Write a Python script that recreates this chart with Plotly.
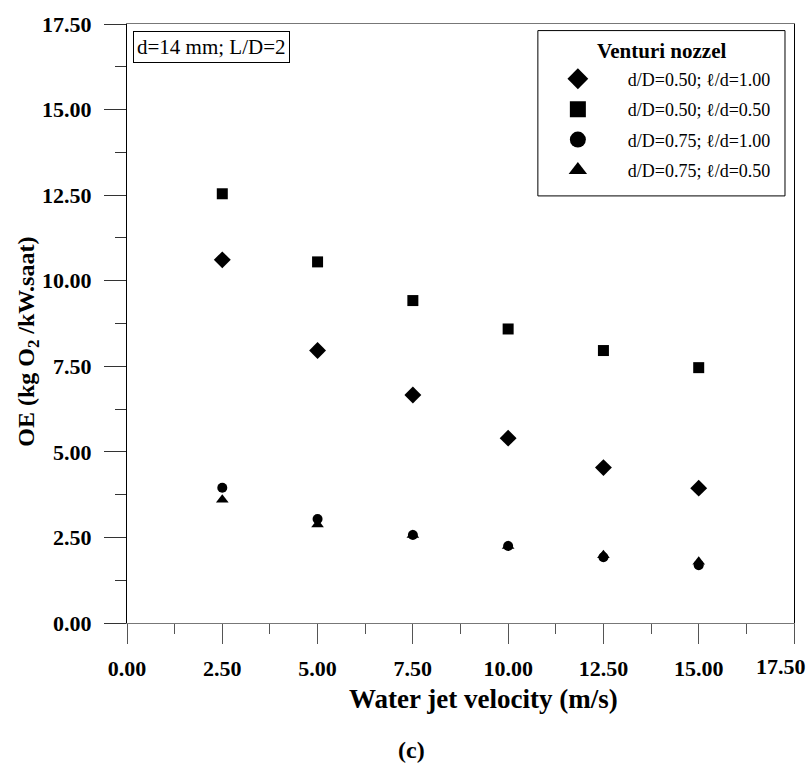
import plotly.graph_objects as go

velocity = [2.5, 5.0, 7.5, 10.0, 12.5, 15.0]
oe_d050_l100 = [10.61, 7.96, 6.66, 5.40, 4.54, 3.94]
oe_d050_l050 = [12.54, 10.55, 9.42, 8.59, 7.96, 7.46]
oe_d075_l100 = [3.95, 3.04, 2.57, 2.25, 1.92, 1.69]
oe_d075_l050 = [3.60, 2.88, 2.57, 2.25, 1.98, 1.79]

series_names = ["d/D=0.50; ℓ/d=1.00", "d/D=0.50; ℓ/d=0.50",
                "d/D=0.75; ℓ/d=1.00", "d/D=0.75; ℓ/d=0.50"]
series_values = [oe_d050_l100, oe_d050_l050, oe_d075_l100, oe_d075_l050]
symbols = ["diamond", "square", "circle", "triangle-up"]
sizes = [13, 11, 10, 11]

tick_vals = [0, 2.5, 5.0, 7.5, 10.0, 12.5, 15.0, 17.5]
tick_text = ["0.00", "2.50", "5.00", "7.50", "10.00", "12.50", "15.00", "17.50"]

SERIF = "Liberation Serif"

fig = go.Figure()
for i, (name, vals, sym, sz) in enumerate(zip(series_names, series_values, symbols, sizes)):
    fig.add_trace(go.Scatter(
        x=velocity, y=vals, mode="markers", name=name, showlegend=False,
        marker=dict(symbol=sym, size=sz, color="black", line=dict(width=0)),
    ))
    # legend entry with larger symbol
    fig.add_trace(go.Scatter(
        x=[None], y=[None], mode="markers", name=name, legendgroup=f"g{i}",
        marker=dict(symbol=sym, size=16, color="black", line=dict(width=0)),
    ))

tickfont = dict(family=SERIF, size=22, color="black", weight="bold")

fig.update_layout(
    width=809, height=765,
    margin=dict(l=127, r=15, t=16, b=142),
    plot_bgcolor="white", paper_bgcolor="white",
    xaxis=dict(range=[0, 17.5], tickvals=tick_vals, ticktext=tick_text[:-1] + [" "],
               ticks="outside", ticklen=20, tickcolor="#555", tickwidth=1,
               showgrid=False, zeroline=False, showline=True, mirror=True,
               linecolor="#777", linewidth=1, tickfont=tickfont, ticklabelstandoff=6,
               minor=dict(ticks="outside", ticklen=10, dtick=1.25, tick0=0, tickcolor="#555")),
    yaxis=dict(range=[0, 17.5], tickvals=tick_vals, ticktext=tick_text,
               ticks="outside", ticklen=22, tickcolor="#333", tickwidth=1,
               showgrid=False, zeroline=False, showline=True, mirror=True,
               linecolor="black", linewidth=1, tickfont=tickfont, ticklabelstandoff=8,
               minor=dict(ticks="outside", ticklen=11, dtick=1.25, tick0=0, tickcolor="#333")),
    legend=dict(
        x=0.601, y=0.939, xanchor="left", yanchor="top",
        borderwidth=0, bgcolor="rgba(0,0,0,0)",
        font=dict(family=SERIF, size=18, color="black"),
        itemwidth=90, tracegroupgap=4, itemsizing="trace",
    ),
    showlegend=True,
)

# legend frame and title
fig.add_shape(type="rect", xref="paper", yref="paper",
              x0=0.616, x1=0.9865, y0=0.713, y1=0.989,
              line=dict(color="black", width=1), fillcolor="white", layer="above")
fig.add_annotation(text="<b>Venturi nozzel</b>", xref="paper", yref="paper",
                   x=0.801, y=0.9555, xanchor="center", yanchor="middle", showarrow=False,
                   font=dict(family=SERIF, size=21, color="black"))

# info box
fig.add_annotation(
    text="d=14 mm; L/D=2", xref="paper", yref="paper", x=0.009, y=0.989,
    xanchor="left", yanchor="top", showarrow=False,
    font=dict(family=SERIF, size=21, color="black"),
    bordercolor="black", borderwidth=1, borderpad=3, bgcolor="white",
)

# last x tick label, shifted inside the page
fig.add_annotation(text=tick_text[-1], xref="x", yref="paper", x=tick_vals[-1], y=-0.0725,
                   xshift=-13, xanchor="center", yanchor="middle", showarrow=False,
                   font=tickfont)

# axis titles
fig.add_annotation(text="Water jet velocity (m/s)", xref="paper", yref="paper",
                   x=0.534, y=-0.1269, xanchor="center", yanchor="middle", showarrow=False,
                   font=dict(family=SERIF, size=27, color="black", weight="bold"))
fig.add_annotation(text="OE (kg O<sub>2</sub> /kW.saat)", xref="paper", yref="paper",
                   x=-0.1484, y=0.4695, xanchor="center", yanchor="middle", showarrow=False,
                   textangle=-90,
                   font=dict(family=SERIF, size=24, color="black", weight="bold"))

fig.add_annotation(
    text="(c)", xref="paper", yref="paper", x=0.426, y=-0.2125,
    xanchor="center", yanchor="middle", showarrow=False,
    font=dict(family=SERIF, size=24, color="black", weight="bold"),
)

fig.write_html("out.html")
